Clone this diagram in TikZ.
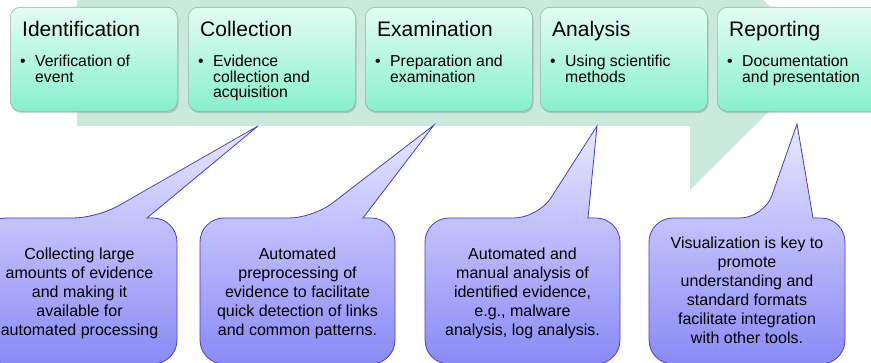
\documentclass[tikz,border=0pt]{standalone}
\usepackage{fontspec}
\setmainfont{Liberation Sans}
\usetikzlibrary{shadows}

\definecolor{bandgreen}{RGB}{201,233,220}
\definecolor{steptop}{RGB}{228,253,243}
\definecolor{stepbottom}{RGB}{134,240,205}
\definecolor{stepline}{RGB}{150,178,168}
\definecolor{notetop}{RGB}{232,232,255}
\definecolor{notebottom}{RGB}{138,138,246}
\definecolor{noteline}{RGB}{64,64,208}

\begin{document}
\begin{tikzpicture}[x=1pt, y=-1pt,
    stepbox/.style={rectangle, rounded corners=10pt, minimum width=167pt, minimum height=104pt,
      anchor=north west, top color=steptop, bottom color=stepbottom, draw=stepline, line width=0.6pt,
      drop shadow={shadow xshift=1.2pt, shadow yshift=-1.8pt, opacity=0.35}},
    steptitle/.style={anchor=base west, inner sep=0pt, font=\fontsize{21}{24}\selectfont},
    stepitem/.style={anchor=base west, inner sep=0pt, align=left, font=\fontsize{15.8}{15.5}\selectfont},
    note/.style={top color=notetop, bottom color=notebottom, draw=noteline, line width=0.8pt},
    notetext/.style={anchor=base, inner sep=0pt, align=center, font=\fontsize{16}{19}\selectfont}]
  \useasboundingbox (0,0) rectangle (871,363);
  \clip (0,0) rectangle (871,363);

  % band arrow behind the steps
  \fill[bandgreen] (77,-9) -- (690,-9) -- (690,-73) -- (822,58.5) -- (690,190) -- (690,126) -- (77,126) -- cycle;

  % steps (the base of a multi-line node is its last line)
  \node[stepbox] (ident) at (10,7) {};
  \node[steptitle] (ident-title) at (22,36.7) {Identification};
  \node[stepitem] at (20,66.7) {\textbullet};
  \node[stepitem] (ident-item) at (35,82.2) {Verification of\\event};

  \node[stepbox] (collect) at (188,7) {};
  \node[steptitle] (collect-title) at (200,36.7) {Collection};
  \node[stepitem] at (198,66.7) {\textbullet};
  \node[stepitem] (collect-item) at (213,97.7) {Evidence\\collection and\\acquisition};

  \node[stepbox] (exam) at (365,7) {};
  \node[steptitle] (exam-title) at (377,36.7) {Examination};
  \node[stepitem] at (375,66.7) {\textbullet};
  \node[stepitem] (exam-item) at (390,82.2) {Preparation and\\examination};

  \node[stepbox] (analysis) at (540,7) {};
  \node[steptitle] (analysis-title) at (552,36.7) {Analysis};
  \node[stepitem] at (550,66.7) {\textbullet};
  \node[stepitem] (analysis-item) at (565,82.2) {Using scientific\\methods};

  \node[stepbox] (report) at (717,7) {};
  \node[steptitle] (report-title) at (729,36.7) {Reporting};
  \node[stepitem] at (727,66.7) {\textbullet};
  \node[stepitem] (report-item) at (742,82.2) {Documentation\\and presentation};

  % callouts
  \coordinate (collect-tip) at (258,126);
  \coordinate (exam-tip) at (434,125);
  \coordinate (analysis-tip) at (597,126);
  \coordinate (report-tip) at (797,124);

  \path[note] (-18,364) [rounded corners=24pt] -- (-18,218) -- (97,218) [sharp corners] -- (collect-tip)
    -- (147,218) [rounded corners=24pt] -- (177,218) -- (177,364) -- cycle;
  \node[notetext] (collect-note) at (79.5,335.3)
    {Collecting large\\amounts of evidence\\and making it\\available for\\automated processing};

  \path[note] (200,364) [rounded corners=24pt] -- (200,218) -- (313,218) [sharp corners] -- (exam-tip)
    -- (363,218) [rounded corners=24pt] -- (395,218) -- (395,364) -- cycle;
  \node[notetext] (exam-note) at (297.5,335.3)
    {Automated\\preprocessing of\\evidence to facilitate\\quick detection of links\\and common patterns.};

  \path[note] (425,364) [rounded corners=24pt] -- (425,218) -- (538,218) [sharp corners] -- (analysis-tip)
    -- (588,218) [rounded corners=24pt] -- (620,218) -- (620,364) -- cycle;
  \node[notetext] (analysis-note) at (522.5,335.3)
    {Automated and\\manual analysis of\\identified evidence,\\e.g., malware\\analysis, log analysis.};

  \path[note] (649,364) [rounded corners=24pt] -- (649,218) -- (764,218) [sharp corners] -- (report-tip)
    -- (813,218) [rounded corners=24pt] -- (845,218) -- (845,364) -- cycle;
  \node[notetext] (report-note) at (747,343.3)
    {Visualization is key to\\promote\\understanding and\\standard formats\\facilitate integration\\with other tools.};
\end{tikzpicture}
\end{document}
